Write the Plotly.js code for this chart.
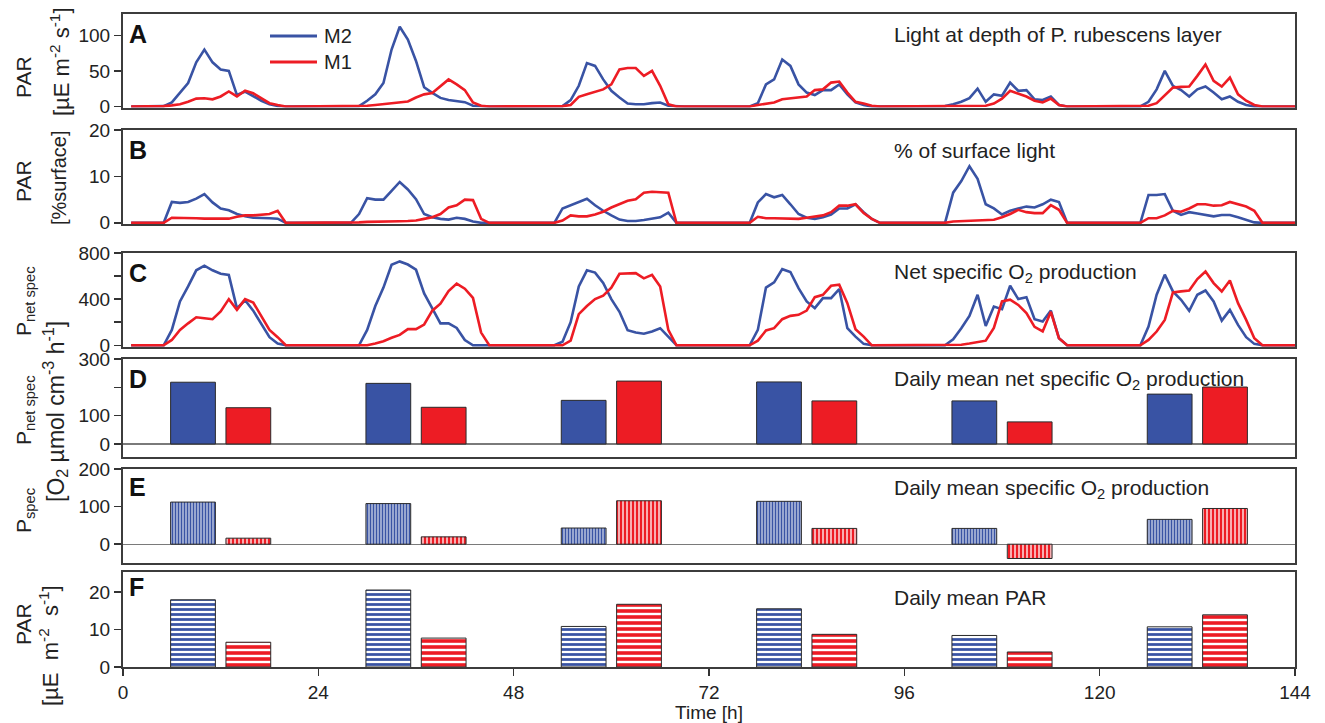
<!DOCTYPE html>
<html><head><meta charset="utf-8">
<script src="https://cdn.plot.ly/plotly-3.0.1.min.js"></script>
<style>html,body{margin:0;padding:0;background:#fff;} #chart{width:1325px;height:723px;}</style>
</head><body><div id="chart"></div>
<script>
// ---------------- DATA ----------------
const hours = [];
for (let h = 1; h <= 144; h++) hours.push(h);

// Panel A: PAR at depth of P. rubescens layer [uE m-2 s-1]
const parA_M2 = [
 0,0,0,0,0.5,5.6,19,33,62,80,62,52,50,16,21,14,8,3,0.5,0,0,0,0,0,
 0,0,0,0,0.5,8,17,33,80,112,94,64,27,19,12,9,8,6,1,0,0,0,0,0,
 0,0,0,0,0,0.5,9,29,61,57,38,22,12.5,4,3,3,4.6,5.6,1,0,0,0,0,0,
 0,0,0,0,0,4.6,31,38,66,57,31,19.5,16,23,23,31,17,5.6,2,0,0,0,0,0,
 0,0,0,0,0.5,3,6.5,11.6,25,6.5,17,15,33.5,22,23,10,9,14,2,0,0,0,0,0,
 0,0,0,0,0,6.5,24,50,29,23,14,24,28,19.5,10,14,6.5,2,0,0,0,0,0,0];
const parA_M1 = [
 0,0,0,0,0.5,1.5,3,6.5,11,11.5,10,14,21,14,22,18.5,11,4.6,2,0,0,0,0,0,
 0,0,0,0,0.5,1,2,3,5,5.6,7,12.5,17,19,28,38,31,23,5.6,1,0,0,0,0,
 0,0,0,0,0,0.5,2,13.5,17,21,24,31,52,54,54,43,50,29,3,0,0,0,0,0,
 0,0,0,0,0,2,4,5.6,10,11.6,12.5,14,23,24,33.5,35,19.5,6.5,4,1,0,0,0,0,
 0,0,0,0,0,0,0,0,0,1,4,11,22,18,14,8,5.6,11,2,0,0,0,0,0,
 0,0,0,0,0,1,4.6,15,26.5,27.5,28,43,59,36,28,40.5,17,8,2,0,0,0,0,0];

// Panel B: % of surface light
const parB_M2 = [
 0,0,0,0,0,4.5,4.3,4.5,5.2,6.2,4.4,3.1,2.7,1.9,1.4,1.1,1.1,1.0,0.9,0,0,0,0,0,
 0,0,0,0,1.9,5.3,5.0,5.0,6.9,8.8,7.2,5.1,1.9,1.2,0.85,0.7,1.1,0.85,0.3,0,0,0,0,0,
 0,0,0,0,0,3.1,3.8,4.4,5.2,3.8,2.6,1.6,0.7,0.4,0.4,0.6,0.85,1.2,2.2,0,0,0,0,0,
 0,0,0,0,0,4.4,6.2,5.5,6.0,4.0,1.9,1.1,0.85,1.2,1.8,3.1,3.1,4.0,2.3,0.85,0,0,0,0,
 0,0,0,0,0,6.5,9,12.2,9.5,4,3.1,1.8,2.6,3.1,3.5,3.3,4,5,4.5,0,0,0,0,0,
 0,0,0,0,0,6,6,6.2,2.6,1.7,2.3,2,1.7,1.4,1.7,1.7,1.2,0.7,0.1,0,0,0,0,0];
const parB_M1 = [
 0,0,0,0,0,1.1,1.1,1.0,1.0,0.9,0.85,0.85,0.9,1.3,1.6,1.6,1.7,1.9,2.6,0,0,0,0,0,
 0,0,0,0,0.1,0.2,0.2,0.3,0.3,0.35,0.4,0.5,0.85,1.2,1.9,3.3,3.8,5.0,4.9,0.85,0,0,0,0,
 0,0,0,0,0,0.5,1.6,1.4,1.4,1.8,2.4,3.3,4.0,4.75,5.1,6.5,6.7,6.6,6.5,0,0,0,0,0,
 0,0,0,0,0,1.3,1.0,1.0,1.0,1.0,0.85,1.1,1.3,1.6,2.3,3.7,3.7,4.0,2.1,0.85,0,0,0,0,
 0,0,0,0,0,0.3,0.4,0.5,0.6,0.6,0.65,1.2,1.9,2.8,2.3,2.1,2.1,3.8,2.8,0,0,0,0,0,
 0,0,0,0,0,1,1,1.6,2.6,2.4,3.1,4,4,3.7,3.8,4.5,4,3.5,2.6,0,0,0,0,0];

// Panel C: net specific O2 production
const pnetC_M2 = [
 0,0,0,0,0,133,380,510,650,690,650,620,610,320,390,300,180,70,15,0,0,0,0,0,
 0,0,0,0,0,133,340,500,698,727,700,655,450,320,190,190,150,45,0,0,0,0,0,0,
 0,0,0,0,0,30,200,510,650,630,540,400,290,130,110,100,120,148,75,0,0,0,0,0,
 0,0,0,0,0,133,500,545,660,635,495,380,322,409,409,487,148,75,12,0,0,0,0,0,
 0,0,0,0,0,52,148,255,438,168,336,313,516,400,417,226,206,301,61,0,0,0,0,0,
 0,0,0,0,0,162,438,612,467,394,299,438,475,380,214,307,177,70,12,0,0,0,0,0];
const pnetC_M1 = [
 0,0,0,0,0,46,133,190,243,235,226,293,400,307,400,371,249,133,70,0,0,0,0,0,
 0,0,0,0,0,0,15,35,65,90,140,140,180,300,360,470,535,490,410,110,0,0,0,0,
 0,0,0,0,0,0,40,270,340,400,430,500,620,625,625,580,610,510,133,0,0,0,0,0,
 0,0,0,0,0,40,128,148,226,255,264,301,417,438,516,525,365,139,75,0,0,0,0,0,
 0,0,0,0,0,0,5,15,30,40,150,380,395,350,280,160,120,290,60,0,0,0,0,0,
 0,0,0,0,0,46,119,220,458,467,475,574,640,539,467,562,365,220,61,0,0,0,0,0];

// Daily means (one value per day)
const days = [1, 2, 3, 4, 5, 6];
const dailyPnet_M2 = [218, 214, 154, 219, 152, 176];
const dailyPnet_M1 = [128, 129.5, 222, 152, 78, 201];
const dailyPspec_M2 = [112, 108, 43, 114, 42, 66];
const dailyPspec_M1 = [16, 19.5, 115.5, 42, -38, 95];
const dailyPAR_M2 = [17.9, 20.5, 10.8, 15.5, 8.4, 10.7];
const dailyPAR_M1 = [6.6, 7.7, 16.7, 8.7, 4.0, 13.9];

const timeTicks = [0, 24, 48, 72, 96, 120, 144];
const seriesNames = ['M2', 'M1'];

// ---------------- STYLE ----------------
const BLUE = '#3953a4', RED = '#ed1c24';
const FONT = 'Liberation Sans, Arial, Helvetica, sans-serif';
const dayCenters = days.map(d => 24 * (d - 1) + 12);
const BW = 5.5;

const traces = [];
function lines(yM2, yM1, ax) {
  traces.push({x: hours, y: yM2, type: 'scatter', mode: 'lines', name: seriesNames[0], showlegend: false,
    xaxis: 'x' + ax, yaxis: 'y' + ax, line: {color: BLUE, width: 2.6}, cliponaxis: false});
  traces.push({x: hours, y: yM1, type: 'scatter', mode: 'lines', name: seriesNames[1], showlegend: false,
    xaxis: 'x' + ax, yaxis: 'y' + ax, line: {color: RED, width: 2.6}, cliponaxis: false});
}
lines(parA_M2, parA_M1, '');
lines(parB_M2, parB_M1, '2');
lines(pnetC_M2, pnetC_M1, '3');

function bars(yM2, yM1, ax, patM2, patM1) {
  const mk = (c, pat) => {
    const m = {color: pat ? '#ffffff' : c, line: {color: '#2a2a2a', width: 1}};
    if (pat) m.pattern = Object.assign({fgcolor: c, bgcolor: '#ffffff', fillmode: 'replace'}, pat);
    return m;
  };
  traces.push({x: dayCenters, y: yM2, type: 'bar', name: seriesNames[0], showlegend: false, xaxis: 'x' + ax, yaxis: 'y' + ax,
    width: BW, offset: -6.15, marker: mk(BLUE, patM2)});
  traces.push({x: dayCenters, y: yM1, type: 'bar', name: seriesNames[1], showlegend: false, xaxis: 'x' + ax, yaxis: 'y' + ax,
    width: BW, offset: 0.65, marker: mk(RED, patM1)});
}
bars(dailyPnet_M2, dailyPnet_M1, '4', null, null);
bars(dailyPspec_M2, dailyPspec_M1, '5', {shape: '|', size: 3, solidity: 0.68}, {shape: '|', size: 4, solidity: 0.68});
bars(dailyPAR_M2, dailyPAR_M1, '6', {shape: '-', size: 5, solidity: 0.55}, {shape: '-', size: 6, solidity: 0.6});

// geometry helpers: px -> paper
const L = 123, R = 30, T = 13, B = 56, W = 1325, H = 723;
const PW = W - L - R, PH = H - T - B;
const py = p => (H - B - p) / PH;
const px = p => (p - L) / PW;

function yax(top, bottom, range, tickvals, ticktext, anchor, zl) {
  return {domain: [py(bottom), py(top)], range: range, anchor: anchor,
    tickmode: 'array', tickvals: tickvals, ticktext: ticktext,
    ticks: 'outside', ticklen: 7, tickwidth: 1.5, tickcolor: '#333',
    showline: true, linecolor: '#3c3c3c', linewidth: 2, mirror: true,
    showgrid: false, zeroline: !!zl, zerolinecolor: '#7a7a7a', zerolinewidth: 1.3,
    tickfont: {size: 19, color: '#222', family: FONT}, fixedrange: true};
}
function xax(anchor, last) {
  const a = {domain: [0, 1], range: [0, 144], anchor: anchor, showline: true, linecolor: '#3c3c3c',
    linewidth: 2, mirror: true, showgrid: false, zeroline: false, fixedrange: true};
  if (last) {
    Object.assign(a, {tickmode: 'array', tickvals: timeTicks, ticks: 'outside', ticklen: 7, tickwidth: 1.5,
      tickcolor: '#333', tickfont: {size: 19, color: '#222', family: FONT},
      title: {text: 'Time [h]', font: {size: 19, color: '#222', family: FONT}, standoff: 3}});
  } else {
    Object.assign(a, {ticks: '', showticklabels: false});
  }
  return a;
}

const layout = {
  width: W, height: H, margin: {l: L, r: R, t: T, b: B},
  paper_bgcolor: '#fff', plot_bgcolor: '#fff',
  font: {family: FONT, color: '#222'},
  barmode: 'overlay',
  showlegend: false,
  xaxis: xax('y'), xaxis2: xax('y2'), xaxis3: xax('y3'), xaxis4: xax('y4'), xaxis5: xax('y5'), xaxis6: xax('y6', true),
  yaxis: yax(14, 107.5, [-1.5, 130], [0, 50, 100], ['0', '50', '100'], 'x'),
  yaxis2: yax(130, 224, [-0.25, 20], [0, 10, 20], ['0', '10', '20'], 'x2'),
  yaxis3: yax(253, 347, [-15, 800], [0, 200, 400, 600, 800], ['0', '', '400', '', '800'], 'x3'),
  yaxis4: yax(359, 457, [-46, 300], [0, 100, 200, 300], ['0', '100', '', '300'], 'x4', true),
  yaxis5: yax(469, 563, [-50, 200], [0, 100, 200], ['0', '100', '200'], 'x5', true),
  yaxis6: yax(572, 667, [0, 25.3], [0, 10, 20], ['0', '10', '20'], 'x6'),
  annotations: [],
  shapes: []
};

const ann = layout.annotations;
// legend (drawn by hand so the line samples match the original length)
[[seriesNames[0], BLUE, 36], [seriesNames[1], RED, 62]].forEach(([t, c, y]) => {
  layout.shapes.push({type: 'line', xref: 'paper', yref: 'paper', x0: px(270), x1: px(317), y0: py(y), y1: py(y),
    line: {color: c, width: 2.8}});
  ann.push({text: t, xref: 'paper', yref: 'paper', x: px(322), y: py(y), xanchor: 'left', yanchor: 'middle',
    showarrow: false, font: {size: 20, family: FONT, color: '#222'}});
});
// panel letters
[['A', 34], ['B', 150], ['C', 273], ['D', 379], ['E', 487], ['F', 587]].forEach(([t, y]) => {
  ann.push({text: '<b>' + t + '</b>', xref: 'paper', yref: 'paper', x: px(127), y: py(y), xanchor: 'left', yanchor: 'middle',
    showarrow: false, font: {size: 25, family: FONT, color: '#111'}});
});
// panel titles
[['Light at depth of P. rubescens layer', 35], ['% of surface light', 151], ['Net specific O<sub>2</sub> production', 273],
 ['Daily mean net specific O<sub>2</sub> production', 380], ['Daily mean specific O<sub>2</sub> production', 489],
 ['Daily mean PAR', 597]].forEach(([t, y]) => {
  ann.push({text: t, xref: 'paper', yref: 'paper', x: px(892), y: py(y), xanchor: 'left', yanchor: 'middle',
    showarrow: false, font: {size: 21, family: FONT, color: '#222'}});
});
// y axis labels
function ylab(t, x, y, size) {
  ann.push({text: t, xref: 'paper', yref: 'paper', x: px(x), y: py(y), xanchor: 'center', yanchor: 'middle',
    textangle: -90, showarrow: false, font: {size: size, family: FONT, color: '#222'}});
}
ylab('PAR', 23, 77, 21);
ylab('[µE m<sup>-2</sup> s<sup>-1</sup>]', 60, 62, 22);
ylab('PAR', 23, 181, 21);
ylab('[%surface]', 59, 178, 20);
ylab('P<sub>net spec</sub>', 25, 301, 21);
ylab('P<sub>net spec</sub>', 25, 410, 21);
ylab('P<sub>spec</sub>', 25, 511, 21);
ylab('[O<sub>2</sub> µmol cm<sup>-3</sup> h<sup>-1</sup>]', 55, 412, 23);
ylab('PAR', 23, 624, 21);
ylab('[µE&nbsp; m<sup>-2</sup>&nbsp; s<sup>-1</sup>]', 49, 646, 22);

Plotly.newPlot('chart', traces, layout, {displayModeBar: false, staticPlot: true});
</script></body></html>
